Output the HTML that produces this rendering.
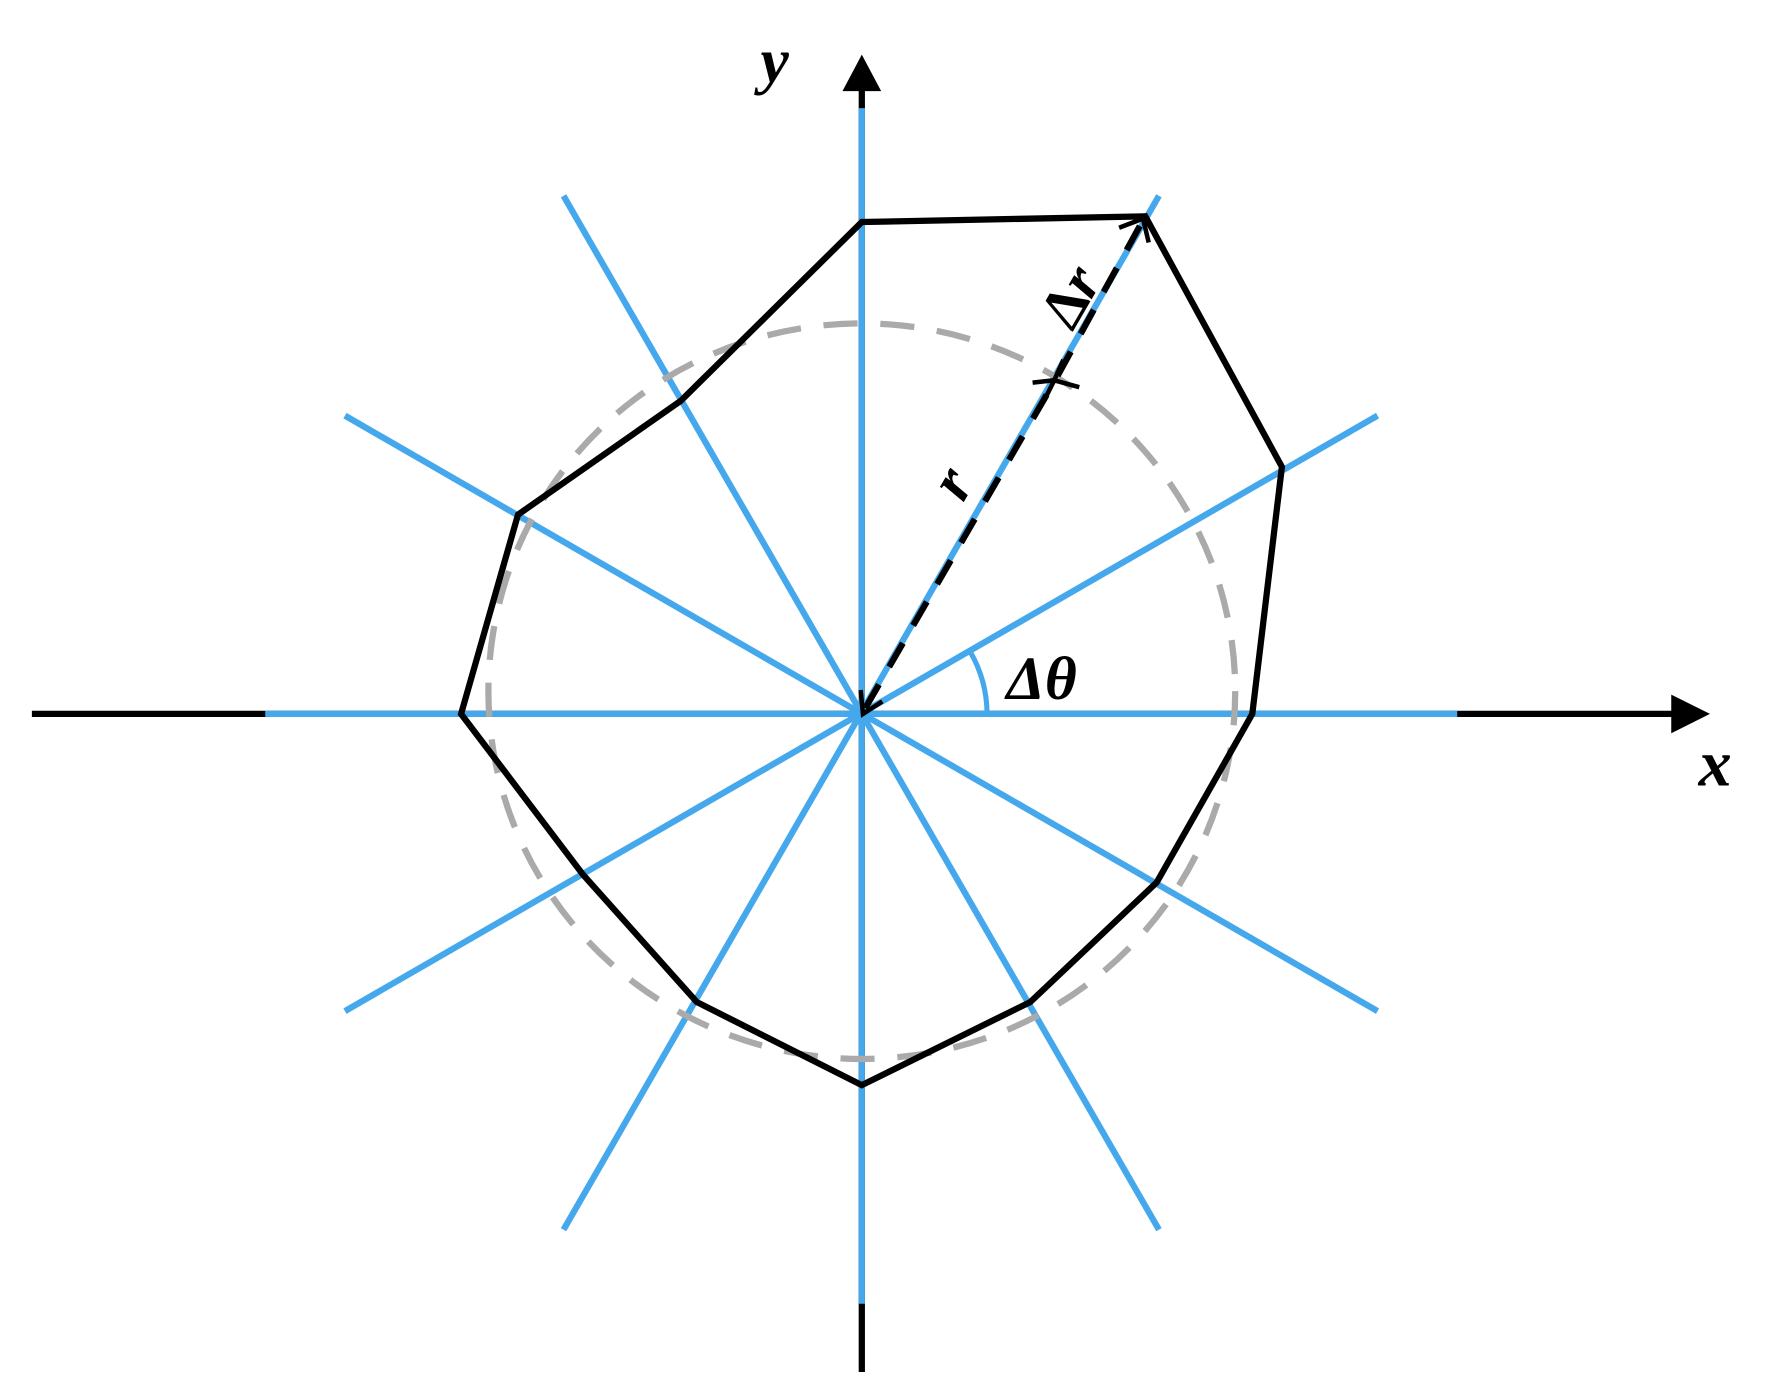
<!DOCTYPE html>
<html><head><meta charset="utf-8"><style>
html,body{margin:0;padding:0;background:#fff;}
svg{display:block;}
text{font-family:"Liberation Serif",serif;font-weight:bold;font-style:italic;fill:#000;}
</style></head><body>
<svg width="1776" height="1388" viewBox="0 0 1560 1219" preserveAspectRatio="none" xmlns="http://www.w3.org/2000/svg">
<!-- axes black -->
<line x1="28" y1="627" x2="1475" y2="627" stroke="#000" stroke-width="5.5"/>
<polygon points="1502,627 1468,610 1468,644" fill="#000"/>
<line x1="757" y1="1205" x2="757" y2="75" stroke="#000" stroke-width="5.5"/>
<polygon points="757,48 740,80 774,80" fill="#000"/>
<!-- blue rays -->
<g stroke="#45a8ec" stroke-width="5.5">
<line x1="233" y1="627" x2="1280" y2="627"/>
<line x1="757" y1="95" x2="757" y2="1145"/>
<line x1="303" y1="365" x2="1210" y2="888"/>
<line x1="1210" y1="365" x2="303" y2="888"/>
<line x1="495" y1="172" x2="1018" y2="1080"/>
<line x1="1018" y1="172" x2="495" y2="1080"/>
</g>
<!-- dashed circle -->
<ellipse cx="757" cy="607" rx="328" ry="323" fill="none" stroke="#aaa" stroke-width="5.5" stroke-dasharray="30,20"/>
<!-- polygon -->
<polygon points="757,195 1006,190 1126,410 1100,627 1016,775 905,880 757,953 612,880 512,768 405,627 455,452 598,352" fill="none" stroke="#000" stroke-width="5.5"/>
<!-- dashed arrows -->
<line x1="760" y1="622" x2="925" y2="337" stroke="#000" stroke-width="5.5" stroke-dasharray="24,18"/>
<line x1="929" y1="330" x2="1002" y2="197" stroke="#000" stroke-width="5.5" stroke-dasharray="24,18"/>
<g stroke="#000" stroke-width="4" fill="none">
<polyline points="756,606 758,627 775,616"/>
<polyline points="907,336 926,334 934,316"/>
<polyline points="948,340 926,334 917,352"/>
<polyline points="983,200 1004,192 1009,213"/>
</g>
<!-- angle arc -->
<path d="M867,627 A110,110 0 0 0 852,572" fill="none" stroke="#45a8ec" stroke-width="4.5"/>
<!-- labels -->
<text x="668" y="72" font-size="56">y</text>
<text x="1492" y="690" font-size="58">x</text>
<text x="884" y="614" font-size="54" font-style="normal">Δ<tspan font-style="italic">θ</tspan></text>
<text transform="translate(846,442) rotate(-60)" font-size="54">r</text>
<text transform="translate(942,292) rotate(-60)" font-size="52"><tspan font-style="normal">Δ</tspan>r</text>
</svg>
</body></html>
